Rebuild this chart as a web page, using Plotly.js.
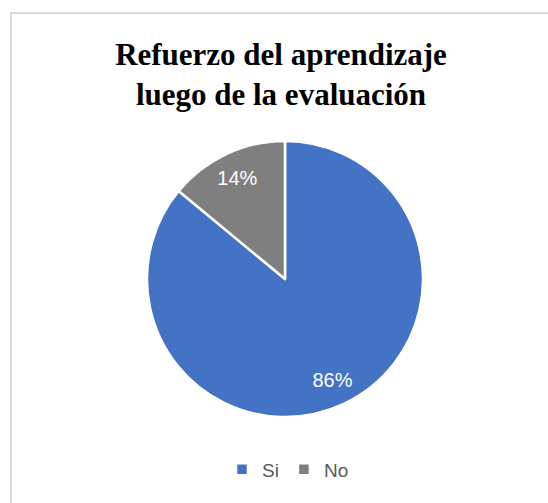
<!DOCTYPE html>
<html>
<head>
<meta charset="utf-8">
<script src="https://cdn.plot.ly/plotly-3.0.1.min.js"></script>
<style>html,body{margin:0;padding:0;background:#fff;}#chart{width:548px;height:503px;}</style>
</head>
<body>
<div id="chart"></div>
<script>
const categories = ["Si", "No"];
const values = [86, 14];
const colors = ["#4472C4", "#7F7F7F"];
const titleText = "Refuerzo del aprendizaje<br>luego de la evaluación";

const W = 548, H = 503;
const pieDomain = { x: [147 / W, 423 / W], y: [1 - 417 / H, 1 - 141 / H] };

const slices = {
  type: "pie",
  labels: categories,
  values: values,
  sort: false,
  direction: "clockwise",
  rotation: 0,
  marker: { colors: colors, line: { color: "#FFFFFF", width: 2.5 } },
  textinfo: "none",
  hoverinfo: "label+percent",
  domain: pieDomain
};

// transparent ring used only to place the data labels at ~0.8 R like the original
const labelRing = {
  type: "pie",
  labels: categories,
  values: values,
  sort: false,
  direction: "clockwise",
  rotation: 0,
  hole: 0.62,
  showlegend: false,
  marker: { colors: ["rgba(0,0,0,0)", "rgba(0,0,0,0)"], line: { width: 0 } },
  texttemplate: "%{percent:.0%}",
  textposition: "inside",
  insidetextorientation: "horizontal",
  textfont: { family: "Liberation Sans", size: 20, color: "#FFFFFF" },
  hoverinfo: "skip",
  domain: pieDomain
};

const layout = {
  width: W, height: H,
  margin: { l: 0, r: 0, t: 0, b: 0 },
  paper_bgcolor: "#FFFFFF",
  title: {
    text: titleText,
    font: { family: "Liberation Serif", size: 31, color: "#000000", weight: "bold" },
    x: 281 / W, xanchor: "center",
    y: 1 - 64.5 / H, yanchor: "middle"
  },
  showlegend: true,
  legend: {
    orientation: "h",
    x: 222 / W, xanchor: "left",
    y: 1 - 469.5 / H, yanchor: "middle",
    font: { family: "Liberation Sans", size: 19, color: "#595959" },
    itemclick: false
  },
  shapes: [{
    type: "rect", xref: "paper", yref: "paper",
    x0: 11 / W, x1: 1.02, y0: -0.02, y1: 1 - 13 / H,
    line: { color: "#D9D9D9", width: 2 }, fillcolor: "rgba(0,0,0,0)", layer: "below"
  }]
};

Plotly.newPlot("chart", [slices, labelRing], layout, { displayModeBar: false, staticPlot: true });
</script>
</body>
</html>
